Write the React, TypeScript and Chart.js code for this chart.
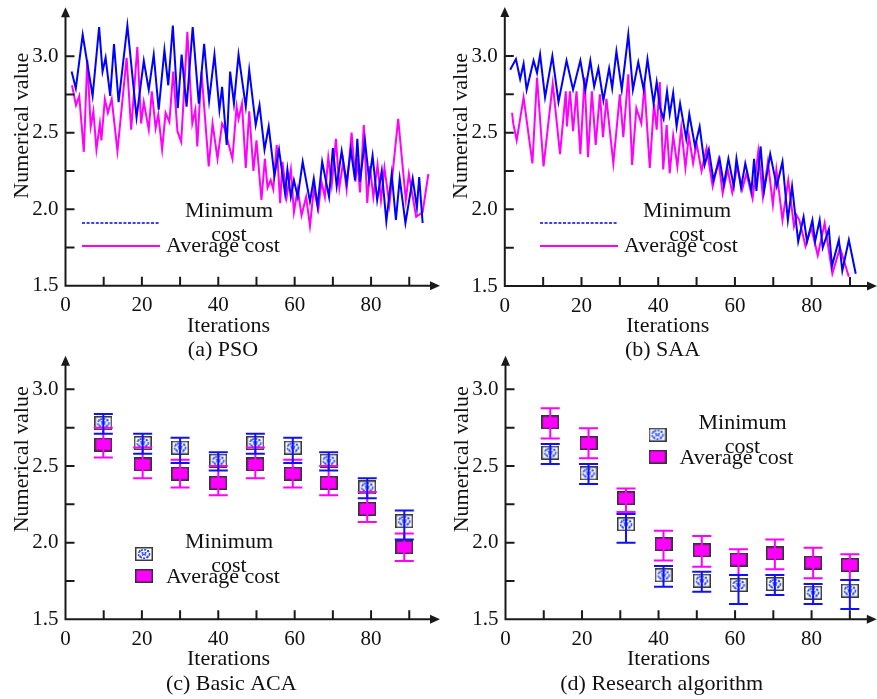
import React, { useEffect, useRef } from 'react';
import { Chart, registerables } from 'chart.js';
Chart.register(...registerables);

// ---------- (a) PSO ----------
const psoMinIter = [1.6, 2.7, 4.5, 7.1, 8.8, 9.7, 10.5, 11.7, 12.7, 13.9, 16.2, 18.6, 20.5, 21.8, 23.1, 24.4, 25.9, 26.9, 28.1, 29.4, 30.4, 31.7, 33.3, 34.9, 36.3, 37.6, 39.0, 40.3, 41.0, 42.2, 43.1, 44.1, 45.3, 47.2, 48.1, 49.8, 50.8, 52.1, 53.2, 54.7, 55.9, 57.5, 58.1, 59.0, 59.8, 60.8, 62.1, 64.0, 65.0, 66.0, 67.2, 69.0, 70.0, 71.0, 72.3, 73.6, 74.7, 75.8, 76.4, 77.1, 78.4, 79.5, 80.4, 81.6, 82.8, 84.0, 85.4, 86.5, 87.5, 89.0, 90.9, 92.0, 92.6, 93.5];
const psoMinCost = [2.90, 2.79, 3.14, 2.74, 3.19, 2.90, 2.99, 2.74, 3.08, 2.70, 3.20, 2.60, 2.97, 2.78, 3.01, 2.65, 3.04, 2.81, 3.20, 2.66, 3.01, 2.67, 3.19, 2.69, 3.08, 2.71, 3.01, 2.65, 2.80, 2.42, 2.90, 2.69, 3.01, 2.67, 2.91, 2.55, 2.68, 2.39, 2.54, 2.22, 2.39, 2.10, 2.26, 2.08, 2.19, 2.08, 2.31, 2.05, 2.20, 2.02, 2.31, 2.08, 2.40, 2.15, 2.38, 2.17, 2.39, 2.19, 2.46, 2.18, 2.45, 2.19, 2.35, 2.06, 2.25, 1.92, 2.23, 1.93, 2.20, 1.91, 2.20, 2.01, 2.21, 1.91];
const psoAvgIter = [1.7, 2.75, 3.6, 4.8, 5.7, 6.6, 7.3, 8.1, 9.0, 9.4, 10.3, 11.1, 12.1, 13.6, 16.0, 17.2, 18.8, 19.8, 20.5, 21.8, 22.6, 23.6, 24.3, 25.3, 26.2, 27.2, 28.2, 29.3, 30.3, 31.9, 33.2, 34.0, 34.5, 35.6, 37.5, 38.5, 39.8, 41.0, 41.6, 43.7, 44.8, 45.3, 46.2, 47.2, 48.1, 49.2, 50.0, 51.3, 52.2, 52.9, 53.7, 54.4, 55.3, 56.2, 56.8, 57.9, 59.0, 59.8, 60.8, 61.8, 63.0, 64.0, 65.0, 66.2, 67.0, 67.9, 68.8, 69.7, 70.8, 71.7, 72.7, 73.6, 74.9, 75.9, 76.4, 77.1, 78.1, 79.0, 79.7, 80.6, 81.7, 82.6, 83.5, 84.8, 87.1, 89.1, 89.9, 91.8, 93.5, 95.0];
const psoAvgCost = [2.81, 2.68, 2.74, 2.375, 2.975, 2.54, 2.64, 2.39, 2.56, 2.45, 2.72, 2.63, 2.72, 2.38, 2.99, 2.52, 3.06, 2.56, 2.70, 2.52, 2.77, 2.53, 2.62, 2.39, 2.63, 2.57, 2.90, 2.51, 2.44, 3.16, 2.56, 2.65, 2.41, 2.90, 2.28, 2.56, 2.33, 2.56, 2.53, 2.33, 2.67, 2.59, 2.69, 2.27, 2.64, 2.25, 2.45, 2.06, 2.33, 2.14, 2.19, 2.13, 2.42, 2.04, 2.31, 2.08, 2.26, 1.98, 2.13, 1.96, 2.08, 1.89, 2.13, 2.00, 2.18, 2.08, 2.34, 2.16, 2.46, 2.14, 2.31, 2.13, 2.50, 2.18, 2.33, 2.11, 2.55, 2.04, 2.28, 2.08, 2.29, 2.06, 2.27, 2.03, 2.59, 2.06, 2.23, 1.95, 1.98, 2.23];

// ---------- (b) SAA ----------
const saaMinIter = [1.4, 2.9, 4.0, 4.9, 5.7, 7.5, 8.4, 9.2, 10.5, 12.4, 14.0, 16.1, 17.8, 19.7, 21.0, 22.3, 23.3, 24.4, 25.7, 27.2, 28.0, 29.1, 30.5, 32.2, 33.4, 34.8, 36.2, 37.2, 38.8, 39.6, 40.5, 41.4, 42.3, 43.0, 43.9, 44.8, 45.7, 47.3, 48.1, 49.6, 50.8, 52.1, 53.2, 54.4, 56.0, 57.1, 58.3, 59.7, 60.4, 61.6, 62.7, 64.3, 65.0, 65.6, 66.7, 67.6, 69.2, 70.9, 72.4, 73.8, 74.9, 76.5, 77.9, 78.8, 80.2, 80.9, 82.1, 82.9, 84.5, 85.3, 87.1, 88.0, 89.7, 91.5];
const saaMinCost = [2.91, 2.98, 2.85, 2.95, 2.78, 2.97, 2.89, 3.01, 2.73, 3.00, 2.70, 2.97, 2.78, 2.97, 2.78, 2.97, 2.80, 2.92, 2.71, 2.92, 2.79, 3.03, 2.78, 3.14, 2.78, 2.96, 2.78, 2.98, 2.69, 2.83, 2.66, 2.59, 2.77, 2.62, 2.76, 2.54, 2.69, 2.46, 2.62, 2.41, 2.54, 2.29, 2.39, 2.19, 2.33, 2.16, 2.33, 2.15, 2.33, 2.14, 2.30, 2.12, 2.33, 2.12, 2.41, 2.12, 2.36, 2.15, 2.31, 1.93, 2.15, 1.79, 1.95, 1.79, 1.93, 1.79, 1.93, 1.75, 1.87, 1.63, 1.80, 1.60, 1.80, 1.58];
const saaAvgIter = [1.9, 2.2, 3.1, 4.9, 7.2, 8.4, 10.1, 12.5, 14.4, 15.9, 16.2, 17.0, 17.8, 18.7, 19.7, 20.8, 21.7, 22.7, 23.7, 24.8, 25.6, 26.5, 28.3, 30.0, 30.9, 32.2, 33.2, 34.3, 35.6, 36.4, 37.8, 38.9, 39.6, 40.4, 41.3, 42.2, 43.0, 43.9, 45.0, 46.0, 47.1, 48.0, 49.1, 50.0, 51.3, 52.6, 54.2, 55.7, 56.8, 58.1, 59.3, 60.6, 61.9, 63.0, 64.6, 66.1, 67.3, 68.6, 69.9, 70.8, 72.4, 73.9, 75.4, 76.1, 76.8, 78.4, 79.9, 81.6, 83.4, 85.4, 87.4, 89.7];
const saaAvgCost = [2.63, 2.56, 2.45, 2.73, 2.30, 2.86, 2.28, 2.82, 2.36, 2.77, 2.54, 2.77, 2.51, 2.77, 2.36, 2.86, 2.34, 2.77, 2.42, 2.75, 2.47, 2.72, 2.30, 2.75, 2.47, 2.88, 2.29, 2.66, 2.56, 2.81, 2.27, 2.69, 2.52, 2.83, 2.26, 2.55, 2.235, 2.48, 2.28, 2.53, 2.27, 2.48, 2.30, 2.43, 2.25, 2.40, 2.15, 2.32, 2.105, 2.26, 2.11, 2.28, 2.13, 2.235, 2.07, 2.38, 2.08, 2.31, 2.03, 2.26, 1.93, 2.19, 1.89, 1.96, 1.93, 1.76, 1.88, 1.70, 1.91, 1.58, 1.75, 1.56];

// ---------- (c) Basic ACA ----------
const acaIter = [9.9, 20.2, 30.0, 40.0, 49.7, 59.5, 68.9, 79.0, 88.7];
const acaMin = [2.78, 2.65, 2.62, 2.535, 2.65, 2.62, 2.535, 2.36, 2.14];
const acaMinHigh = [2.84, 2.71, 2.685, 2.59, 2.71, 2.685, 2.59, 2.42, 2.21];
const acaMinLow = [2.71, 2.58, 2.52, 2.47, 2.58, 2.52, 2.47, 2.29, 2.02];
const acaAvg = [2.64, 2.51, 2.45, 2.39, 2.51, 2.45, 2.39, 2.22, 1.97];
const acaAvgHigh = [2.75, 2.62, 2.54, 2.50, 2.62, 2.54, 2.50, 2.33, 2.06];
const acaAvgLow = [2.555, 2.42, 2.36, 2.31, 2.42, 2.36, 2.31, 2.135, 1.88];

// ---------- (d) Research algorithm ----------
const resIter = [11.7, 21.7, 31.5, 41.3, 51.3, 60.9, 70.4, 80.4, 90.0];
const resMin = [2.587, 2.452, 2.12, 1.787, 1.752, 1.724, 1.73, 1.674, 1.687];
const resMinHigh = [2.643, 2.513, 2.187, 1.848, 1.811, 1.789, 1.789, 1.73, 1.757];
const resMinLow = [2.513, 2.383, 2.0, 1.713, 1.68, 1.6, 1.659, 1.6, 1.567];
const resAvg = [2.785, 2.65, 2.29, 1.99, 1.95, 1.89, 1.93, 1.87, 1.855];
const resAvgHigh = [2.876, 2.746, 2.354, 2.078, 2.043, 1.957, 2.02, 1.967, 1.924];
const resAvgLow = [2.68, 2.55, 2.2, 1.883, 1.843, 1.789, 1.826, 1.767, 1.757];

// ---------- axes ----------
const xTickLabels = [0, 20, 40, 60, 80];
const yTickLabels = [1.5, 2.0, 2.5, 3.0];
const xTickMarks = [10, 20, 30, 40, 50, 60, 70, 80, 90];
const yTickMarks = [1.75, 2.0, 2.25, 2.5, 2.75, 3.0];

const seriesNames = ['Minimum cost', 'Average cost'];
const BLUE = '#0000ff';
const MAGENTA = '#ff00ff';
const FONT = "'Liberation Serif', 'Times New Roman', Times, serif";
const INK = '#111111';

type PanelCfg = {
  id: string;
  kind: 'line' | 'marker';
  left: number; top: number; w: number; h: number;
  L: number; T: number; R: number; B: number;
  xMax: number; yMax: number;
  caption: string; capX: number; capY: number;
  legX: number; legY: number;
};

const panels: PanelCfg[] = [
  { id: 'a', kind: 'line', left: 0, top: 0, w: 440, h: 362, L: 65.5, T: 10.3, R: 436, B: 285.7, xMax: 97, yMax: 3.3, caption: '(a) PSO', capX: 223, capY: 356, legX: 82, legY: 223 },
  { id: 'b', kind: 'line', left: 437, top: 0, w: 440, h: 362, L: 67.8, T: 10, R: 436, B: 286, xMax: 96, yMax: 3.3, caption: '(b) SAA', capX: 225.5, capY: 356, legX: 103, legY: 223 },
  { id: 'c', kind: 'marker', left: 0, top: 340, w: 440, h: 359, L: 65.5, T: 18.7, R: 436, B: 279.3, xMax: 97, yMax: 3.2, caption: '(c) Basic ACA', capX: 231.3, capY: 350, legX: 82, legY: 214 },
  { id: 'd', kind: 'marker', left: 437, top: 340, w: 440, h: 359, L: 68.5, T: 18.7, R: 435.8, B: 279.3, xMax: 96, yMax: 3.2, caption: '(d) Research algorithm', capX: 224.7, capY: 350, legX: 158.5, legY: 94.7 },
];

function makeMinMarker(): HTMLCanvasElement {
  const c = document.createElement('canvas');
  c.width = 18; c.height = 14;
  const g = c.getContext('2d')!;
  g.fillStyle = '#ffffff';
  g.fillRect(0, 0, 18, 14);
  g.strokeStyle = '#3a3a3a';
  g.lineWidth = 1.5;
  g.strokeRect(0.75, 0.75, 16.5, 12.5);
  g.strokeStyle = '#2846ff';
  g.lineWidth = 1.6;
  g.setLineDash([2, 1.2]);
  g.beginPath();
  g.moveTo(4, 3.5); g.lineTo(14, 10.5);
  g.moveTo(14, 3.5); g.lineTo(4, 10.5);
  g.stroke();
  g.beginPath();
  g.ellipse(9, 7, 5.5, 4.2, 0, 0, Math.PI * 2);
  g.stroke();
  return c;
}

function makeAvgMarker(): HTMLCanvasElement {
  const c = document.createElement('canvas');
  c.width = 18; c.height = 14;
  const g = c.getContext('2d')!;
  g.fillStyle = MAGENTA;
  g.fillRect(0, 0, 18, 14);
  g.strokeStyle = '#333333';
  g.lineWidth = 1.5;
  g.strokeRect(0.75, 0.75, 16.5, 12.5);
  return c;
}

function pts(xs: number[], ys: number[]) {
  return xs.map((x, i) => ({ x, y: ys[i] }));
}

function buildDatasets(p: PanelCfg, minMk: HTMLCanvasElement, avgMk: HTMLCanvasElement) {
  if (p.id === 'a' || p.id === 'b') {
    const mi = p.id === 'a' ? psoMinIter : saaMinIter;
    const mv = p.id === 'a' ? psoMinCost : saaMinCost;
    const ai = p.id === 'a' ? psoAvgIter : saaAvgIter;
    const av = p.id === 'a' ? psoAvgCost : saaAvgCost;
    return [
      { label: seriesNames[0], data: pts(mi, mv), showLine: true, borderColor: BLUE, borderWidth: 2, pointRadius: 0, tension: 0 },
      { label: seriesNames[1], data: pts(ai, av), showLine: true, borderColor: MAGENTA, borderWidth: 2, pointRadius: 0, tension: 0 },
    ];
  }
  const it = p.id === 'c' ? acaIter : resIter;
  const mv = p.id === 'c' ? acaMin : resMin;
  const av = p.id === 'c' ? acaAvg : resAvg;
  return [
    { label: seriesNames[0], data: pts(it, mv), showLine: false, pointStyle: minMk, pointRadius: 7 },
    { label: seriesNames[1], data: pts(it, av), showLine: false, pointStyle: avgMk, pointRadius: 7 },
  ];
}

function errorSets(p: PanelCfg) {
  if (p.id === 'c') {
    return [
      { x: acaIter, low: acaAvgLow, high: acaAvgHigh, color: MAGENTA },
      { x: acaIter, low: acaMinLow, high: acaMinHigh, color: '#1010ff' },
    ];
  }
  if (p.id === 'd') {
    return [
      { x: resIter, low: resAvgLow, high: resAvgHigh, color: MAGENTA },
      { x: resIter, low: resMinLow, high: resMinHigh, color: '#1010ff' },
    ];
  }
  return [];
}

function makeDecor(p: PanelCfg, minMk: HTMLCanvasElement, avgMk: HTMLCanvasElement) {
  return {
    id: 'decor' + p.id,
    afterDatasetsDraw(chart: any) {
      const ctx = chart.ctx;
      const xs = chart.scales.x;
      const ys = chart.scales.y;
      for (const e of errorSets(p)) {
        ctx.save();
        ctx.strokeStyle = e.color;
        ctx.lineWidth = 2;
        e.x.forEach((xv: number, i: number) => {
          const px = xs.getPixelForValue(xv);
          const t = ys.getPixelForValue(e.high[i]);
          const b = ys.getPixelForValue(e.low[i]);
          ctx.beginPath();
          ctx.moveTo(px, t); ctx.lineTo(px, b);
          ctx.moveTo(px - 9.5, t); ctx.lineTo(px + 9.5, t);
          ctx.moveTo(px - 9.5, b); ctx.lineTo(px + 9.5, b);
          ctx.stroke();
        });
        ctx.restore();
      }
    },
    afterDraw(chart: any) {
      const ctx = chart.ctx;
      const xs = chart.scales.x;
      const ys = chart.scales.y;
      const { left, right, top, bottom } = chart.chartArea;
      ctx.save();
      // axes
      ctx.strokeStyle = '#1a1a1a';
      ctx.fillStyle = '#1a1a1a';
      ctx.lineWidth = 2;
      ctx.beginPath();
      ctx.moveTo(left - 1, bottom); ctx.lineTo(right, bottom);
      ctx.moveTo(left, bottom + 1); ctx.lineTo(left, top + 2);
      ctx.stroke();
      ctx.beginPath();
      ctx.moveTo(right + 4, bottom); ctx.lineTo(right - 6, bottom - 4.5); ctx.lineTo(right - 6, bottom + 4.5);
      ctx.closePath(); ctx.fill();
      ctx.beginPath();
      ctx.moveTo(left, top - 3); ctx.lineTo(left - 4.5, top + 7); ctx.lineTo(left + 4.5, top + 7);
      ctx.closePath(); ctx.fill();
      // inward tick marks
      ctx.beginPath();
      for (const v of xTickMarks) {
        const px = xs.getPixelForValue(v);
        ctx.moveTo(px, bottom); ctx.lineTo(px, bottom - 9);
      }
      for (const v of yTickMarks) {
        const py = ys.getPixelForValue(v);
        ctx.moveTo(left, py); ctx.lineTo(left + 9, py);
      }
      ctx.stroke();

      // titles
      ctx.fillStyle = INK;
      ctx.font = `22px ${FONT}`;
      ctx.textAlign = 'center';
      ctx.textBaseline = 'alphabetic';
      ctx.fillText('Iterations', left + 163, bottom + 46);
      ctx.fillText(p.caption, p.capX, p.capY);
      ctx.save();
      ctx.translate(left - 38, bottom - 160);
      ctx.rotate(-Math.PI / 2);
      ctx.fillText('Numerical value', 0, 0);
      ctx.restore();

      // legend
      const lx = p.legX;
      const ly = p.legY;
      if (p.kind === 'line') {
        ctx.save();
        ctx.strokeStyle = BLUE;
        ctx.lineWidth = 1.6;
        ctx.setLineDash([3, 1.6]);
        ctx.beginPath(); ctx.moveTo(lx, ly); ctx.lineTo(lx + 78, ly); ctx.stroke();
        ctx.setLineDash([]);
        ctx.strokeStyle = MAGENTA;
        ctx.lineWidth = 2;
        ctx.beginPath(); ctx.moveTo(lx, ly + 23); ctx.lineTo(lx + 78, ly + 23); ctx.stroke();
        ctx.restore();
      } else {
        ctx.drawImage(minMk, lx + 62 - 9, ly - 7);
        ctx.drawImage(avgMk, lx + 62 - 9, ly + 22 - 7);
      }
      ctx.fillStyle = INK;
      ctx.font = `22px ${FONT}`;
      ctx.textAlign = 'center';
      ctx.fillText('Minimum', lx + 147, ly - 6);
      ctx.fillText('cost', lx + 147, ly + 18);
      ctx.fillText('Average cost', lx + 141, ly + 29);
      ctx.restore();
    },
  };
}

function ChartPanel({ p }: { p: PanelCfg }) {
  const ref = useRef<HTMLCanvasElement | null>(null);
  useEffect(() => {
    const canvas = ref.current;
    if (!canvas) return;
    const minMk = makeMinMarker();
    const avgMk = makeAvgMarker();
    const xH = 40;
    const chart = new Chart(canvas, {
      type: 'scatter',
      data: { datasets: buildDatasets(p, minMk, avgMk) as any },
      options: {
        responsive: false,
        animation: false,
        devicePixelRatio: 1,
        events: [],
        layout: {
          autoPadding: false,
          padding: { left: 0, top: p.T, right: p.w - p.R, bottom: p.h - p.B - xH },
        } as any,
        plugins: { legend: { display: false }, tooltip: { enabled: false }, title: { display: false } },
        scales: {
          x: {
            type: 'linear',
            min: 0,
            max: p.xMax,
            grid: { display: false, drawTicks: false },
            border: { display: false },
            ticks: {
              stepSize: 10,
              autoSkip: false,
              maxRotation: 0,
              minRotation: 0,
              padding: 7.5,
              color: INK,
              font: { family: FONT, size: 21 },
              callback: (v: any) => (xTickLabels.includes(Number(v)) ? String(v) : ''),
            },
            afterFit: (s: any) => { s.height = xH; s.paddingLeft = 0; s.paddingRight = 0; },
          },
          y: {
            type: 'linear',
            min: 1.5,
            max: p.yMax,
            grid: { display: false, drawTicks: false },
            border: { display: false },
            ticks: {
              stepSize: 0.25,
              autoSkip: false,
              padding: 7,
              color: INK,
              font: { family: FONT, size: 21 },
              callback: (v: any) => {
                const n = Number(v);
                return yTickLabels.some((t) => Math.abs(t - n) < 1e-6) ? n.toFixed(1) : '';
              },
            },
            afterFit: (s: any) => { s.width = p.L; s.paddingTop = 0; s.paddingBottom = 0; },
          },
        },
      } as any,
      plugins: [makeDecor(p, minMk, avgMk)],
    });
    return () => chart.destroy();
  }, [p]);
  return (
    <canvas
      ref={ref}
      width={p.w}
      height={p.h}
      style={{ position: 'absolute', left: p.left, top: p.top, width: p.w, height: p.h }}
    />
  );
}

export default function App() {
  return (
    <div style={{ position: 'absolute', left: 0, top: 0, width: 877, height: 699, background: '#ffffff', overflow: 'hidden' }}>
      {panels.map((p) => (
        <ChartPanel key={p.id} p={p} />
      ))}
    </div>
  );
}
